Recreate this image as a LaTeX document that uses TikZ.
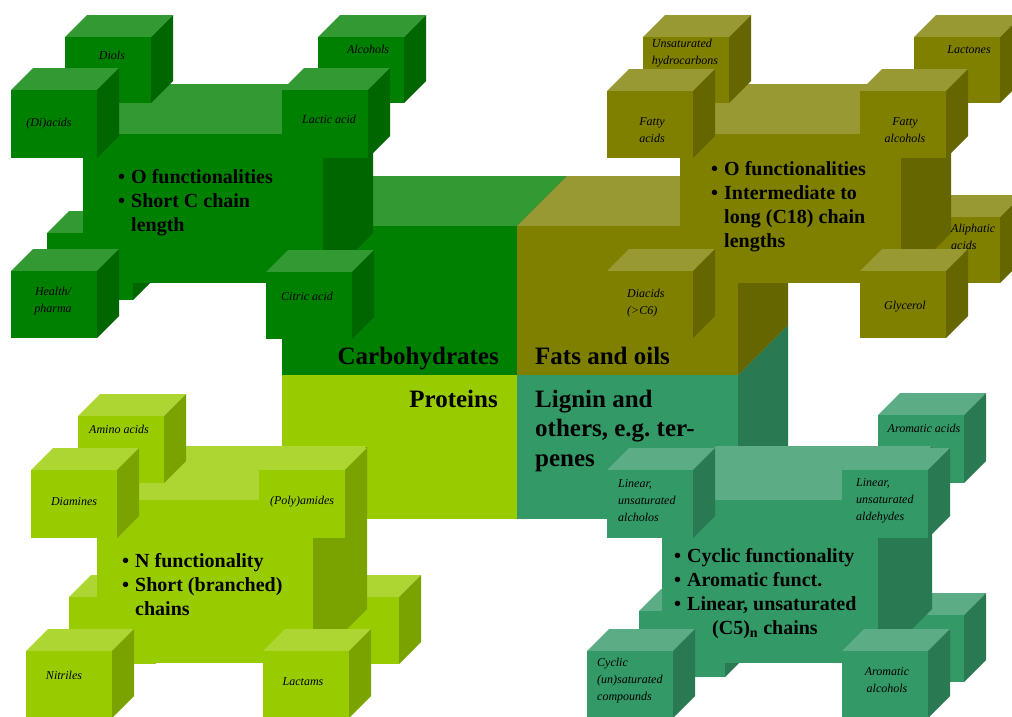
\documentclass[tikz,border=0pt]{standalone}
\usepackage{fontspec}
\setmainfont{Liberation Serif}
\usepackage{tikz}

\definecolor{carbF}{HTML}{008000}
\definecolor{carbT}{HTML}{339933}
\definecolor{carbS}{HTML}{006600}
\definecolor{fatF}{HTML}{808000}
\definecolor{fatT}{HTML}{999933}
\definecolor{fatS}{HTML}{666600}
\definecolor{protF}{HTML}{99CC00}
\definecolor{protT}{HTML}{ADD633}
\definecolor{protS}{HTML}{7AA300}
\definecolor{ligF}{HTML}{339966}
\definecolor{ligT}{HTML}{5CAD85}
\definecolor{ligS}{HTML}{297A52}

\tikzset{
	biglbl/.style={font=\fontsize{25}{29.5}\selectfont\bfseries, inner sep=0pt},
	bullets/.style={font=\fontsize{20}{24}\selectfont\bfseries, inner sep=0pt, anchor=base west},
	itlbl/.style={font=\fontsize{12}{17}\selectfont\itshape, inner sep=0pt}
}

\newcommand{\blok}[6]{%
	\fill[#6T] (#1,#2) -- ++(#5,-#5) -- ++(#3,0) -- ++(-#5,#5) -- cycle;
	\fill[#6S] (#1+#3,#2) -- ++(#5,-#5) -- ++(0,#4) -- ++(-#5,#5) -- cycle;
	\fill[#6F] (#1,#2) rectangle ++(#3,#4);
}

\begin{document}
\begin{tikzpicture}[x=1pt, y=-1pt]
			\useasboundingbox (0,0) rectangle (1012,716);
			\clip (0,0) rectangle (1012,716);
			\fill[white] (0,0) rectangle (1012,716);
			\blok{282}{375}{235}{144}{50}{prot}
			\blok{517}{375}{221}{144}{50}{lig}
			\blok{282}{226}{235}{149}{50}{carb}
			\blok{517}{226}{221}{149}{50}{fat}
			\node[biglbl, anchor=base east] (carbo) at (499,364) {Carbohydrates};
			\node[biglbl, anchor=base west] (fats) at (535,364) {Fats and oils};
			\node[biglbl, anchor=base east] (prot) at (498,407) {Proteins};
			\node[biglbl, anchor=base west] (lign) at (535,407) {\begin{tabular}[t]{@{}l@{}}Lignin and\\others, e.g.\ ter-\\penes\end{tabular}};
			\blok{47}{233}{86}{67}{22}{carb}
			\blok{83}{134}{240}{149}{50}{carb}
			\blok{65}{37}{86}{66}{22}{carb}
			\blok{318}{37}{86}{66}{22}{carb}
			\blok{11}{90}{86}{68}{22}{carb}
			\blok{282}{90}{86}{68}{22}{carb}
			\blok{11}{271}{86}{67}{22}{carb}
			\blok{266}{272}{86}{67}{22}{carb}
			\blok{914}{217}{86}{66}{22}{fat}
			\blok{680}{134}{221}{149}{50}{fat}
			\blok{643}{37}{86}{66}{22}{fat}
			\blok{914}{37}{86}{66}{22}{fat}
			\blok{607}{91}{86}{67}{22}{fat}
			\blok{860}{91}{86}{67}{22}{fat}
			\blok{607}{271}{86}{67}{22}{fat}
			\blok{860}{271}{86}{67}{22}{fat}
			\blok{69}{597}{86}{67}{22}{prot}
			\blok{313}{597}{86}{67}{22}{prot}
			\blok{97}{500}{216}{163}{54}{prot}
			\blok{78}{416}{86}{67}{22}{prot}
			\blok{31}{470}{86}{68}{22}{prot}
			\blok{259}{470}{86}{68}{22}{prot}
			\blok{26}{651}{86}{67}{22}{prot}
			\blok{263}{651}{86}{67}{22}{prot}
			\blok{639}{611}{86}{66}{22}{lig}
			\blok{878}{615}{86}{67}{22}{lig}
			\blok{878}{415}{86}{68}{22}{lig}
			\blok{662}{500}{216}{163}{54}{lig}
			\blok{607}{470}{86}{68}{22}{lig}
			\blok{842}{470}{86}{68}{22}{lig}
			\blok{587}{651}{86}{67}{22}{lig}
			\blok{842}{651}{86}{67}{22}{lig}
			\node[bullets] (carbtxt) at (118,183) {\begin{tabular}[t]{@{}l@{\hspace{6pt}}l@{}}\textbullet & O functionalities\\\textbullet & Short C chain\\ & length\end{tabular}};
			\node[bullets] (fattxt) at (711,175) {\begin{tabular}[t]{@{}l@{\hspace{6pt}}l@{}}\textbullet & O functionalities\\\textbullet & Intermediate to\\ & long (C18) chain\\ & lengths\end{tabular}};
			\node[bullets] (prottxt) at (122,567) {\begin{tabular}[t]{@{}l@{\hspace{6pt}}l@{}}\textbullet & N functionality\\\textbullet & Short (branched)\\ & chains\end{tabular}};
			\node[bullets] (ligtxt) at (674,562) {\begin{tabular}[t]{@{}l@{\hspace{6pt}}l@{}}\textbullet & Cyclic functionality\\\textbullet & Aromatic funct.\\\textbullet & Linear, unsaturated\\ & \hspace*{25pt}(C5)\textsubscript{n} chains\end{tabular}};
			\node[itlbl] (diols) at (112,55) {Diols};
			\node[itlbl] (alco) at (368,49) {Alcohols};
			\node[itlbl] (diac) at (49,124) {(Di)acids};
			\node[itlbl] (lact) at (329,119) {Lactic acid};
			\node[itlbl, align=center] (health) at (53,301) {Health/\\pharma};
			\node[itlbl] (citr) at (307,296) {Citric acid};
			\node[itlbl, align=left] (unsat) at (685,53) {Unsaturated\\hydrocarbons};
			\node[itlbl] (lacto) at (969,50) {Lactones};
			\node[itlbl, align=center] (facid) at (652,130) {Fatty\\acids};
			\node[itlbl, align=center] (falco) at (905,130) {Fatty\\alcohols};
			\node[itlbl, align=left, anchor=west] (aliph) at (951,237) {Aliphatic\\acids};
			\node[itlbl, align=left, anchor=west] (diacid) at (627,303) {Diacids\\(>C6)};
			\node[itlbl] (glyc) at (905,307) {Glycerol};
			\node[itlbl] (amino) at (119,429) {Amino acids};
			\node[itlbl] (diam) at (74,502) {Diamines};
			\node[itlbl] (poly) at (302,502) {(Poly)amides};
			\node[itlbl] (nitr) at (64,675) {Nitriles};
			\node[itlbl] (lactam) at (303,682) {Lactams};
			\node[itlbl] (aroac) at (924,428) {Aromatic acids};
			\node[itlbl, align=left, anchor=west] (linalc) at (618,501) {Linear,\\unsaturated\\alcholos};
			\node[itlbl, align=left, anchor=west] (linald) at (856,501) {Linear,\\unsaturated\\aldehydes};
			\node[itlbl, align=left, anchor=west] (cycl) at (597,681) {Cyclic\\(un)saturated\\compounds};
			\node[itlbl, align=center] (aroal) at (887,680) {Aromatic\\alcohols};
		\end{tikzpicture}
\end{document}
